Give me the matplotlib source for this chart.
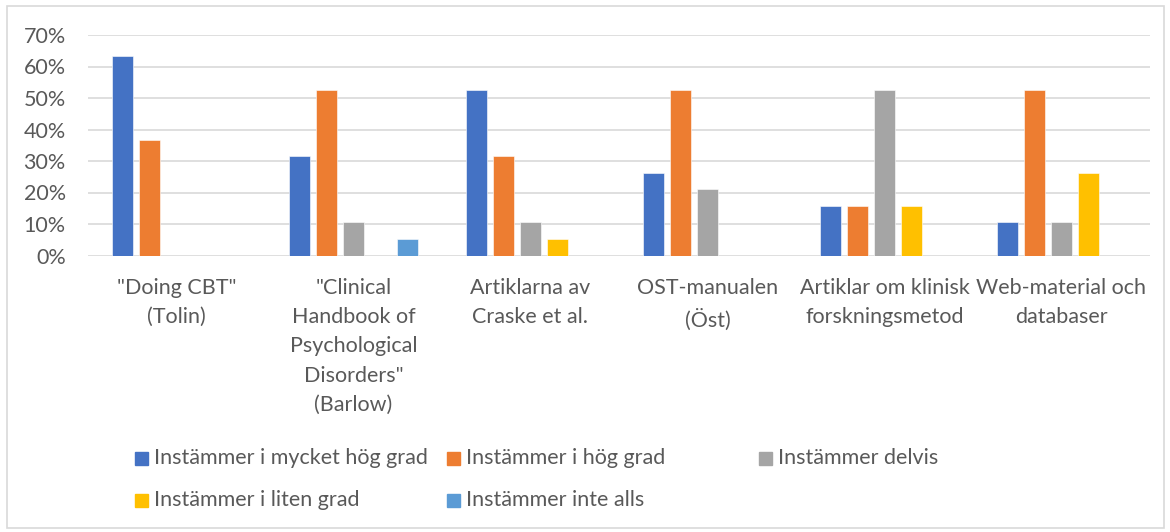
import matplotlib.pyplot as plt
import numpy as np
from matplotlib.patches import Rectangle

plt.rcParams['font.family'] = ['Lato', 'DejaVu Sans']

categories = ['"Doing CBT"\n(Tolin)',
              '"Clinical\nHandbook of\nPsychological\nDisorders"\n(Barlow)',
              'Artiklarna av\nCraske et al.',
              'OST-manualen\n(Öst)',
              'Artiklar om klinisk\nforskningsmetod',
              'Web-material och\ndatabaser']
series_names = ['Instämmer i mycket hög grad', 'Instämmer i hög grad',
                'Instämmer delvis', 'Instämmer i liten grad',
                'Instämmer inte alls']
mycket_hog = [0.632, 0.316, 0.526, 0.263, 0.158, 0.105]
hog = [0.368, 0.526, 0.316, 0.526, 0.158, 0.526]
delvis = [0.0, 0.105, 0.105, 0.211, 0.526, 0.105]
liten = [0.0, 0.0, 0.053, 0.0, 0.158, 0.263]
inte_alls = [0.0, 0.053, 0.0, 0.0, 0.0, 0.0]
series = [mycket_hog, hog, delvis, liten, inte_alls]
colors = ['#4472C4', '#ED7D31', '#A5A5A5', '#FFC000', '#5B9BD5']

W, H = 1170, 532
FS = 15.5
fig = plt.figure(figsize=(W / 100, H / 100), dpi=100)
ax = fig.add_axes([88 / W, 1 - 255.5 / H, 1062 / W, (255.5 - 35) / H])

x = np.arange(len(categories))
pitch = 0.1525
bw = 0.1186
for i, vals in enumerate(series):
    ax.bar(x + (i - 2) * pitch, vals, width=bw, color=colors[i],
           edgecolor='white', linewidth=0.4, zorder=3)

ax.set_xlim(-0.5, len(categories) - 0.5)
ax.set_ylim(0, 0.7)
ax.set_yticks(np.arange(0, 0.71, 0.1))
ax.set_yticklabels([f'{int(round(v * 100))}%' for v in np.arange(0, 0.71, 0.1)])
ax.yaxis.grid(True, color='#D9D9D9', linewidth=1.2, zorder=0)
ax.set_xticks(x)
ax.set_xticklabels(categories, linespacing=1.58)
for s in ax.spines.values():
    s.set_visible(False)
ax.tick_params(axis='both', length=0, labelsize=FS, colors='#595959')
ax.tick_params(axis='x', pad=16)
ax.tick_params(axis='y', pad=16)

# legend laid out like Excel: fixed columns
for i, name in enumerate(series_names):
    row, col = divmod(i, 3)
    lx = 135 + col * 312
    ly = 458 + row * 42
    fig.add_artist(Rectangle((lx / W, 1 - (ly + 6.5) / H), 13 / W, 13 / H,
                             transform=fig.transFigure, color=colors[i]))
    fig.text((lx + 19) / W, 1 - ly / H, name, fontsize=FS, color='#595959',
             va='center', ha='left')

fig.add_artist(Rectangle((7 / W, 4 / H), (W - 13) / W, (H - 10) / H,
                         transform=fig.transFigure, fill=False,
                         edgecolor='#D9D9D9', linewidth=1.2))

fig.savefig('out.png', dpi=100)
